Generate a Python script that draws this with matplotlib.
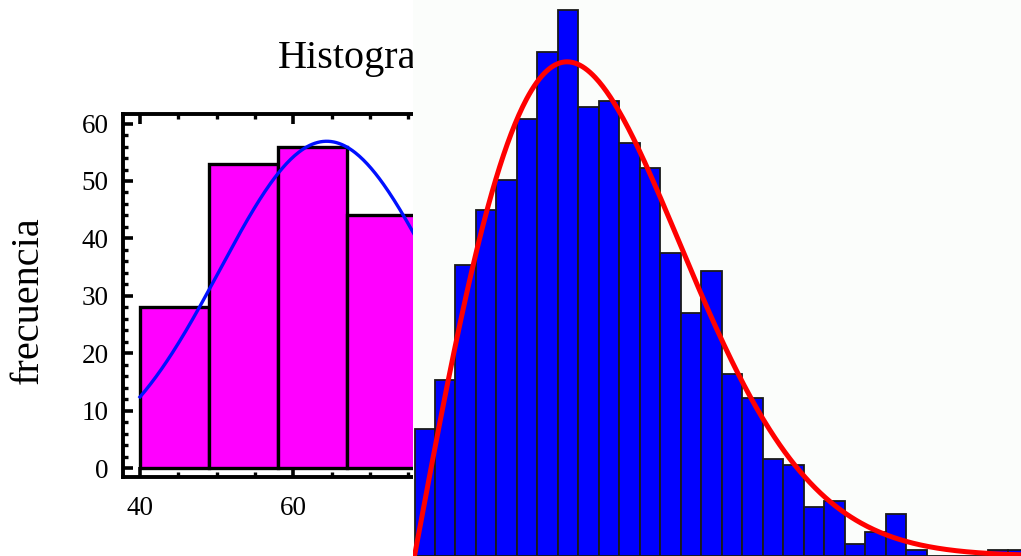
import numpy as np
import matplotlib
matplotlib.use('Agg')
import matplotlib.pyplot as plt
from matplotlib.ticker import MultipleLocator, AutoMinorLocator

plt.rcParams['font.family'] = ['Liberation Serif', 'DejaVu Serif']

# histograma de la izquierda (magenta) + ajuste normal
bordes_izq = [40, 49, 58, 67, 76]
frec_izq = [28, 53, 56, 44]
media_izq = 64.35
desv_izq = 13.94
n_izq = 221

# histograma de la derecha (azul) + ajuste Rayleigh
frec_der = [21, 29, 48, 57, 62, 72, 83, 90, 74, 75, 68, 64, 50, 40, 47,
            30, 26, 16, 15, 8, 9, 2, 4, 7, 1, 0, 0, 0, 1, 1]
sigma_der = 7.45
n_der = sum(frec_der)

W, H = 1021, 556
fig = plt.figure(figsize=(W / 100, H / 100), dpi=100)
fig.patch.set_facecolor('white')

# --- panel izquierdo ---
px_x = 7.667   # pixeles por unidad en x
px_y = 5.74    # pixeles por unidad en y
x_izq, y0, y_top = 123, 477, 114
ax = fig.add_axes([x_izq / W, 1 - y0 / H, (1000 - x_izq) / W, (y0 - y_top) / H])
ax.set_xlim(40 - (140 - x_izq) / px_x, 40 + (1000 - 140) / px_x)
ax.set_ylim(-(y0 - 468) / px_y, (468 - y_top) / px_y)

anchos = np.diff(bordes_izq)
ax.bar(bordes_izq[:-1], frec_izq, width=anchos, align='edge',
       color='#ff00ff', edgecolor='black', linewidth=2.4, zorder=2)
xs = np.linspace(40, 110, 400)
ys = n_izq * 9 * np.exp(-(xs - media_izq) ** 2 / (2 * desv_izq ** 2)) / (desv_izq * np.sqrt(2 * np.pi))
ax.plot(xs, ys, color='#0010ff', lw=2.4, zorder=3)

for s in ax.spines.values():
    s.set_linewidth(2.8)
ax.xaxis.set_major_locator(MultipleLocator(20))
ax.xaxis.set_minor_locator(MultipleLocator(5))
ax.yaxis.set_major_locator(MultipleLocator(10))
ax.yaxis.set_minor_locator(AutoMinorLocator(5))
ax.tick_params(which='major', direction='in', length=7, width=2.6,
               top=True, right=True, labelsize=19.5)
ax.tick_params(which='minor', direction='in', length=3.5, width=2.4,
               top=True, right=True)
ax.tick_params(axis='x', pad=14)
ax.tick_params(axis='y', pad=10.5)

fig.text(28 / W, 1 - 300 / H, 'frecuencia', rotation=90, fontsize=29,
         ha='center', va='center')
fig.text(278 / W, 1 - 68 / H, 'Histograma', fontsize=29,
         ha='left', va='baseline')

# --- panel derecho superpuesto ---
px_b = 20.48   # pixeles por clase
px_c = 6.07    # pixeles por unidad de frecuencia
x_der = 413
ax2 = fig.add_axes([x_der / W, 0, (W - x_der) / W, 1], zorder=5)
ax2.set_facecolor('#fbfdfb')
x0 = -1.5 / px_b
ax2.set_xlim(x0, x0 + (W - x_der) / px_b)
ax2.set_ylim(0, H / px_c)
clases = np.arange(len(frec_der))
ax2.bar(clases, frec_der, width=1, align='edge', color='#0000ff',
        edgecolor='#1a1a1a', linewidth=1.3, zorder=2)
xr = np.linspace(0, 31, 500)
yr = n_der * xr / sigma_der ** 2 * np.exp(-xr ** 2 / (2 * sigma_der ** 2))
ax2.plot(xr, yr, color='#ff0000', lw=3.6, zorder=3)
ax2.set_axis_off()
ax2.patch.set_visible(True)
fig.add_artist(plt.Rectangle((x_der / W, 0), (W - x_der) / W, 1,
                             transform=fig.transFigure, facecolor='#fbfdfb',
                             edgecolor='none', zorder=4))

fig.savefig('out.png', dpi=100)
